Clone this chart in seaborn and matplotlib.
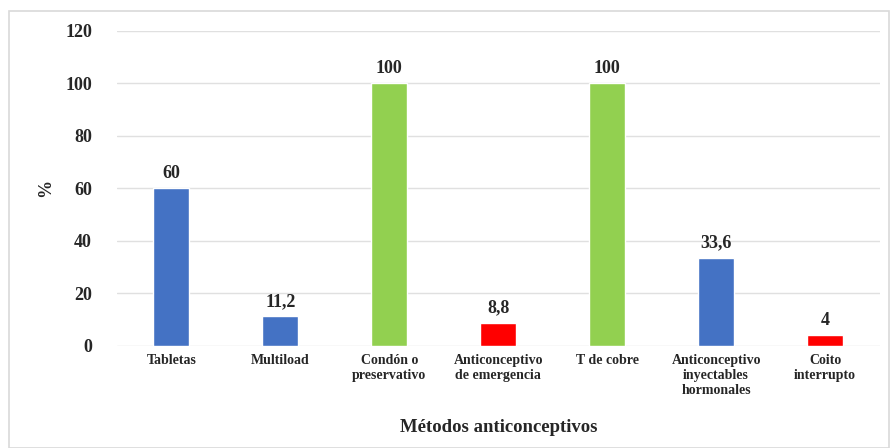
"""
Métodos anticonceptivos conocidos (%).
"""

import matplotlib
matplotlib.use("Agg")
import matplotlib.pyplot as plt
import seaborn as sns
import pandas as pd
from matplotlib.patches import Rectangle

metodos = [
    "Tabletas",
    "Multiload",
    "Condón o\npreservativo",
    "Anticonceptivo\nde emergencia",
    "T de cobre",
    "Anticonceptivo\ninyectables\nhormonales",
    "Coito\ninterrupto",
]
porcentajes = [60, 11.2, 100, 8.8, 100, 33.6, 4]
etiquetas = ["60", "11,2", "100", "8,8", "100", "33,6", "4"]
colores = ["#4472C4", "#4472C4", "#92D050", "#FF0000", "#92D050", "#4472C4", "#FF0000"]

df = pd.DataFrame({"metodo": metodos, "pct": porcentajes})

sns.set_style("white")
plt.rcParams["font.family"] = ["Liberation Serif", "DejaVu Serif"]
plt.rcParams["font.weight"] = "bold"

fig = plt.figure(figsize=(8.93, 4.48), dpi=100)
ax = fig.add_axes([0.131, 0.228, 0.854, 0.703])

sns.barplot(data=df, x="metodo", y="pct", hue="metodo", palette=colores,
            legend=False, width=0.33, ax=ax, saturation=1)

for i, (v, t) in enumerate(zip(porcentajes, etiquetas)):
    ax.text(i, v + 2.5, t, ha="center", va="bottom", fontsize=13, fontweight="bold")

ax.set_ylim(0, 120)
ax.set_yticks(range(0, 121, 20))
ax.set_xlim(-0.5, len(metodos) - 0.5)
ax.grid(axis="y", color="#e0e0e0", linewidth=1)
ax.set_axisbelow(True)
for s in ax.spines.values():
    s.set_visible(False)
ax.tick_params(axis="y", labelsize=13, length=0, pad=18)
ax.tick_params(axis="x", labelsize=10, length=0, pad=6)
for lab in ax.get_xticklabels() + ax.get_yticklabels():
    lab.set_fontweight("bold")

ax.set_xlabel("Métodos anticonceptivos", fontsize=13.5, fontweight="bold", labelpad=16)
ax.set_ylabel("%", fontsize=13, fontweight="bold", labelpad=8)

# borde del gráfico
fig.patches.append(Rectangle((0.01, 0.0), 0.985, 0.975, transform=fig.transFigure,
                             fill=False, edgecolor="#d9d9d9", linewidth=1.2))

fig.savefig("out.png", dpi=100)
